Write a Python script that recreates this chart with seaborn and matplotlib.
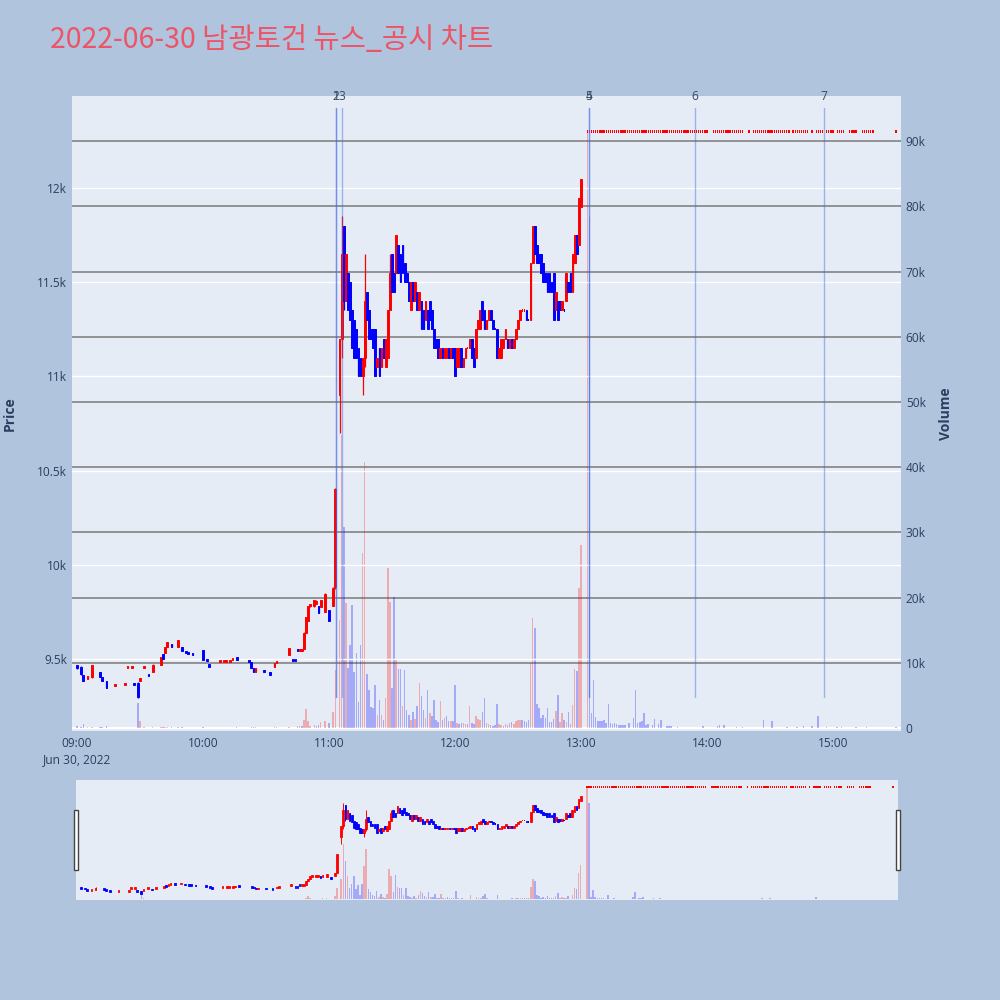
import numpy as np
import pandas as pd
import matplotlib
matplotlib.use("Agg")
import matplotlib.pyplot as plt
import matplotlib.transforms as mtransforms
from matplotlib.patches import Rectangle
import seaborn as sns

# ---------------- data ----------------
TITLE = "2022-06-30 남광토건 뉴스_공시 차트"
DATE_TEXT = "Jun 30, 2022"
HOUR_LABELS = ["09:00", "10:00", "11:00", "12:00", "13:00", "14:00", "15:00"]
PREV_CLOSE = 9470

# sparse morning trading (minutes after 09:00)
EARLY_MIN = [0, 2, 3, 5, 7, 11, 12, 14, 18, 23,
             24, 26, 27, 29, 30, 32, 34, 36, 40, 41,
             42, 43, 45, 48, 50, 52, 53, 55, 60, 62,
             63, 68, 70, 71, 73, 74, 76, 82, 83, 84,
             85, 89, 92, 94, 95, 101, 103, 104, 105, 106,
             107, 108, 109, 110, 111, 113, 114, 115, 116, 118,
             120, 122, 123]
EARLY_OPEN = [9470, 9455, 9415, 9395, 9405, 9430, 9405, 9385, 9360, 9365,
              9455, 9455, 9370, 9370, 9380, 9455, 9415, 9430, 9465, 9525,
              9530, 9565, 9580, 9565, 9565, 9540, 9535, 9530, 9545, 9495,
              9470, 9485, 9485, 9485, 9485, 9495, 9510, 9490, 9485, 9450,
              9430, 9440, 9425, 9455, 9480, 9520, 9495, 9495, 9550, 9545,
              9545, 9550, 9640, 9700, 9780, 9780, 9790, 9780, 9775, 9750,
              9760, 9780, 9880]
EARLY_HIGH = [9470, 9460, 9415, 9410, 9470, 9430, 9405, 9385, 9365, 9370,
              9460, 9460, 9370, 9375, 9400, 9460, 9415, 9475, 9510, 9525,
              9565, 9590, 9580, 9600, 9565, 9540, 9535, 9530, 9545, 9495,
              9470, 9490, 9490, 9490, 9490, 9500, 9510, 9490, 9485, 9450,
              9450, 9440, 9425, 9480, 9490, 9560, 9495, 9495, 9550, 9550,
              9550, 9645, 9720, 9780, 9790, 9815, 9810, 9780, 9815, 9850,
              9760, 9880, 10405]
EARLY_LOW = [9445, 9415, 9385, 9395, 9400, 9405, 9385, 9345, 9360, 9365,
             9455, 9455, 9365, 9290, 9380, 9455, 9410, 9430, 9465, 9500,
             9530, 9565, 9565, 9565, 9540, 9530, 9525, 9520, 9495, 9490,
             9460, 9485, 9485, 9485, 9485, 9495, 9495, 9485, 9450, 9430,
             9430, 9435, 9420, 9455, 9480, 9520, 9490, 9490, 9545, 9545,
             9545, 9550, 9640, 9700, 9775, 9775, 9790, 9745, 9775, 9750,
             9700, 9780, 9870]
EARLY_CLOSE = [9450, 9420, 9385, 9410, 9465, 9405, 9385, 9345, 9365, 9370,
               9460, 9460, 9365, 9295, 9400, 9460, 9410, 9470, 9510, 9500,
               9565, 9590, 9565, 9600, 9540, 9530, 9525, 9520, 9495, 9490,
               9460, 9490, 9490, 9490, 9490, 9500, 9495, 9485, 9450, 9430,
               9450, 9435, 9420, 9480, 9490, 9560, 9490, 9490, 9545, 9550,
               9550, 9640, 9720, 9780, 9790, 9815, 9805, 9745, 9815, 9845,
               9700, 9878, 10400]
EARLY_VOL = [300, 200, 600, 100, 200, 150, 100, 300, 50, 50,
             50, 50, 50, 3800, 1000, 100, 50, 100, 100, 100,
             100, 150, 100, 150, 100, 50, 50, 50, 150, 50,
             50, 50, 50, 50, 50, 50, 100, 50, 100, 100,
             100, 50, 50, 100, 100, 200, 50, 50, 300, 300,
             300, 1200, 2900, 1000, 300, 500, 300, 400, 900, 1000,
             700, 2500, 8900]

# continuous trading from 11:05 (one candle per minute)
RALLY_START = 125
RALLY_OPEN = [10900, 11200, 11800, 11400, 11550, 11500, 11350, 11300, 11250, 11150,
              11100, 11000, 11100, 11450, 11350, 11250, 11250, 11250, 11050, 11150,
              11050, 11200, 11050, 11100, 11350, 11650, 11550, 11550, 11700, 11650,
              11700, 11600, 11550, 11500, 11350, 11500, 11400, 11450, 11350, 11400,
              11350, 11300, 11350, 11400, 11350, 11250, 11200, 11200, 11100, 11150,
              11100, 11100, 11150, 11100, 11150, 11150, 11050, 11050, 11150, 11050,
              11100, 11150, 11150, 11200, 11150, 11100, 11250, 11250, 11400, 11350,
              11250, 11300, 11350, 11300, 11250, 11250, 11100, 11100, 11150, 11200,
              11200, 11150, 11200, 11150, 11200, 11250, 11300, 11350, 11350, 11350,
              11300, 11300, 11600, 11800, 11700, 11650, 11650, 11600, 11550, 11550,
              11550, 11500, 11550, 11350, 11400, 11400, 11350, 11350, 11400, 11500,
              11550, 11450, 11600, 11750, 11700, 11900]
RALLY_CLOSE = [11200, 11650, 11400, 11650, 11350, 11300, 11150, 11100, 11100, 11000,
               11000, 11100, 11400, 11300, 11200, 11200, 11150, 11000, 11100, 11000,
               11150, 11100, 11200, 11350, 11550, 11450, 11450, 11750, 11550, 11500,
               11550, 11500, 11500, 11400, 11500, 11400, 11500, 11350, 11450, 11250,
               11250, 11400, 11250, 11300, 11250, 11150, 11150, 11100, 11150, 11100,
               11150, 11150, 11100, 11150, 11100, 11000, 11150, 11150, 11050, 11100,
               11150, 11150, 11200, 11100, 11050, 11250, 11300, 11350, 11300, 11250,
               11300, 11350, 11300, 11250, 11250, 11100, 11150, 11200, 11200, 11250,
               11150, 11200, 11150, 11200, 11250, 11300, 11350, 11350, 11350, 11300,
               11300, 11600, 11800, 11650, 11600, 11600, 11550, 11500, 11500, 11450,
               11450, 11450, 11300, 11450, 11300, 11350, 11400, 11350, 11550, 11450,
               11450, 11650, 11750, 11650, 11950, 12050]
RALLY_VOL_K = [16.6, 45, 30.8, 19.1, 9.2, 12.7, 18.9, 8.6, 11.5, 4,
               12.7, 26.8, 40.8, 8.3, 5.8, 3.2, 3, 6.6, 2, 4.3,
               2, 1.2, 4.6, 24.5, 19.3, 6.2, 20.1, 10.4, 9, 9.1,
               3.4, 8.9, 2.8, 2, 1.2, 2.4, 1.4, 3.4, 6.9, 4.9,
               2.7, 1.6, 5.8, 2.3, 1.9, 4.3, 1.3, 0.9, 4.2, 1.2,
               1.5, 1.9, 1.1, 1, 1, 6.6, 0.8, 0.6, 0.8, 0.7,
               0.6, 0.6, 3.4, 0.7, 0.6, 1.9, 1.4, 1.3, 2.5, 4.6,
               0.8, 0.6, 0.4, 0.3, 0.4, 3.7, 0.6, 0.4, 0.3, 0.6,
               0.4, 0.7, 0.9, 0.6, 1, 1.2, 1.2, 1.2, 1, 0.9,
               1.2, 10, 16.9, 15.3, 3.7, 3, 1.5, 2, 1.5, 3,
               0.9, 0.9, 1.4, 2.6, 5, 0.9, 2.3, 1.2, 0.9, 2.4,
               0.6, 3.6, 9, 8.7, 21.5, 28]
WICK_MIN = [125, 126, 127, 136, 137, 149]
WICK_HIGH = [11200, 11850, 11800, 11100, 11650, 11650]
WICK_LOW = [10700, 11100, 11350, 10900, 11050, 11350]

# upper-limit price after 13:03
LIMIT_PRICE = 12300
LIMIT_RUNS = [(243, 300), (303, 317), (320, 320), (322, 339), (341, 348), (350, 350),
              (352, 355), (357, 360), (362, 365), (368, 371), (374, 379), (390, 390)]
LIMIT_VOL_MIN = [243, 244, 245, 246, 247, 248, 249, 250, 251, 252,
                 253, 254, 255, 256, 257, 258, 259, 260, 261, 263,
                 265, 266, 267, 268, 269, 270, 271, 272, 274, 275,
                 277, 278, 281, 282, 283, 286, 298, 305, 306, 308,
                 314, 317, 327, 331, 338, 343, 346, 350, 353, 357,
                 362, 364, 371, 376, 390]
LIMIT_VOL = [91600, 78400, 2300, 7400, 1700, 1000, 1100, 1000, 1200, 700,
             3700, 700, 600, 800, 600, 500, 400, 400, 400, 700,
             1600, 5800, 700, 900, 1000, 2300, 500, 600, 500, 1400,
             600, 1300, 300, 300, 300, 200, 300, 300, 400, 400,
             200, 200, 1200, 1100, 200, 200, 300, 300, 1800, 150,
             150, 150, 150, 150, 150]

# news / disclosure markers
EVENT_LABELS = ["1", "2", "3", "4", "5", "6", "7"]
EVENT_TIMES = ["11:03:20", "11:03:20", "11:06:10", "13:03:50", "13:03:50", "13:54:20", "14:55:40"]

PRICE_TICKS = [9500, 10000, 10500, 11000, 11500, 12000]
PRICE_TICK_LABELS = ["9.5k", "10k", "10.5k", "11k", "11.5k", "12k"]
VOL_TICKS = [0, 10000, 20000, 30000, 40000, 50000, 60000, 70000, 80000, 90000]
VOL_TICK_LABELS = ["0", "10k", "20k", "30k", "40k", "50k", "60k", "70k", "80k", "90k"]

# ---------------- build frame ----------------
early = pd.DataFrame({"minute": EARLY_MIN, "open": EARLY_OPEN, "high": EARLY_HIGH,
                      "low": EARLY_LOW, "close": EARLY_CLOSE, "volume": EARLY_VOL})
rally = pd.DataFrame({"minute": RALLY_START + np.arange(len(RALLY_OPEN)),
                      "open": RALLY_OPEN, "close": RALLY_CLOSE,
                      "volume": np.array(RALLY_VOL_K) * 1000})
rally["high"] = rally[["open", "close"]].max(axis=1)
rally["low"] = rally[["open", "close"]].min(axis=1)
for m, h, l in zip(WICK_MIN, WICK_HIGH, WICK_LOW):
    rally.loc[rally.minute == m, "high"] = h
    rally.loc[rally.minute == m, "low"] = l
limit_min = np.concatenate([np.arange(a, b + 1) for a, b in LIMIT_RUNS])
limit = pd.DataFrame({"minute": limit_min, "open": LIMIT_PRICE, "high": LIMIT_PRICE,
                      "low": LIMIT_PRICE, "close": LIMIT_PRICE})
limit["volume"] = limit.minute.map(dict(zip(LIMIT_VOL_MIN, LIMIT_VOL))).fillna(0)
df = pd.concat([early, rally, limit], ignore_index=True).sort_values("minute").reset_index(drop=True)

prev_close = df.close.shift(1).fillna(PREV_CLOSE)
inc, last = [], True
for o, c, pc in zip(df.open, df.close, prev_close):
    if c > o:
        d = True
    elif c < o:
        d = False
    elif c > pc:
        d = True
    elif c < pc:
        d = False
    else:
        d = last
    inc.append(d)
    last = d
df["inc"] = inc
df["vol_up"] = df.close > prev_close

def to_min(t):
    h, m, s = [int(v) for v in t.split(":")]
    return (h - 9) * 60 + m + s / 60.0

event_x = [to_min(t) for t in EVENT_TIMES]

# ---------------- style ----------------
sns.set_theme(style="darkgrid")
plt.rcParams["font.family"] = ["Open Sans", "Noto Sans CJK KR", "DejaVu Sans"]
RED = "#FF0000"
BLUE = "#0000FF"
PLOT_BG = "#E5ECF6"
PAPER_BG = "#B0C4DE"
TXT = "#2a3f5f"
XLIM = (-2.4, 392.4)
PLIM = (9117, 12489)
VLIM = (-460, 96930)

fig = plt.figure(figsize=(10, 10), dpi=100, facecolor=PAPER_BG)


def draw(axp, axv, body_lw, wick_lw, min_h):
    colors = np.where(df.inc, RED, BLUE)
    axp.vlines(df.minute, df.low, df.high, colors=colors, lw=wick_lw, zorder=3)
    span = (df.close - df.open).abs().to_numpy()
    flat = span == 0
    heights = np.maximum(span, min_h)
    bottoms = np.minimum(df.open, df.close).to_numpy() - (heights - span) / 2
    widths = np.where(flat, 0.62, 0.85)
    edge_w = np.where(flat, 0.0, body_lw)
    axp.bar(df.minute, heights, bottom=bottoms, width=widths, color=colors,
            edgecolor=colors, linewidth=edge_w, zorder=4)
    vcol = np.where(df.vol_up, RED, BLUE)
    axv.bar(df.minute, df.volume, width=0.75, color=vcol, alpha=0.28, lw=0, zorder=2)
    axp.set_xlim(*XLIM)
    axp.set_ylim(*PLIM)
    axv.set_ylim(*VLIM)


# main chart
axp = fig.add_axes([0.072, 0.269, 0.829, 0.635])
axv = axp.twinx()
axv.set_zorder(1)
axp.set_zorder(2)
axp.patch.set_visible(False)
axv.patch.set_visible(True)
axv.patch.set_facecolor(PLOT_BG)
draw(axp, axv, body_lw=0.7, wick_lw=0.9, min_h=12)

axp.set_yticks(PRICE_TICKS)
axp.set_yticklabels(PRICE_TICK_LABELS)
axv.set_yticks(VOL_TICKS)
axv.set_yticklabels(VOL_TICK_LABELS)
axp.set_xticks([i * 60 for i in range(len(HOUR_LABELS))])
axp.set_xticklabels([HOUR_LABELS[0] + "\n" + DATE_TEXT] + HOUR_LABELS[1:])
for a in (axp, axv):
    a.tick_params(length=0, labelsize=8.6, colors=TXT, pad=3.5)
    for s in a.spines.values():
        s.set_visible(False)
axp.tick_params(axis="x", pad=4)
axp.grid(False)
axv.grid(False)
axp.yaxis.grid(True, color="white", lw=1.0, zorder=0)
axv.yaxis.grid(True, color="#7a7a7a", lw=1.1, zorder=0)
axv.axhline(0, color="white", lw=1.5, zorder=1)
for lbl in axp.get_xticklabels():
    lbl.set_linespacing(1.35)

trans = mtransforms.blended_transform_factory(axp.transData, axp.transAxes)
for x, lab in zip(event_x, EVENT_LABELS):
    axp.plot([x, x], [0.054, 0.981], transform=trans, color="#4169E1", alpha=0.45,
             lw=1.0, zorder=5)
    axp.text(x, 1.0, lab, transform=trans, ha="center", va="center", fontsize=8.6,
             color="#3b4a5e", zorder=6, clip_on=False)

fig.text(0.010, 0.5865, "Price", rotation=90, ha="center", va="center",
         fontsize=10, fontweight="bold", color=TXT)
fig.text(0.946, 0.5865, "Volume", rotation=90, ha="center", va="center",
         fontsize=10, fontweight="bold", color=TXT)
fig.text(0.05, 0.960, TITLE, ha="left", va="center", fontsize=20.5, color="#EC5567",
         family=["Noto Sans CJK KR", "DejaVu Sans"])

# range slider
sp = fig.add_axes([0.076, 0.100, 0.822, 0.120])
sv = sp.twinx()
sv.set_zorder(1)
sp.set_zorder(2)
sp.patch.set_visible(False)
sv.patch.set_visible(True)
sv.patch.set_facecolor(PLOT_BG)
draw(sp, sv, body_lw=0.6, wick_lw=0.7, min_h=50)
for a in (sp, sv):
    a.grid(False)
    a.set_xticks([])
    a.set_yticks([])
    for s in a.spines.values():
        s.set_visible(False)

for hx in (0.0735, 0.8955):
    fig.patches.append(Rectangle((hx, 0.130), 0.004, 0.060, transform=fig.transFigure,
                                 facecolor="white", edgecolor="#444444", lw=1.0, zorder=10))

fig.savefig("out.png", dpi=100, facecolor=PAPER_BG)
